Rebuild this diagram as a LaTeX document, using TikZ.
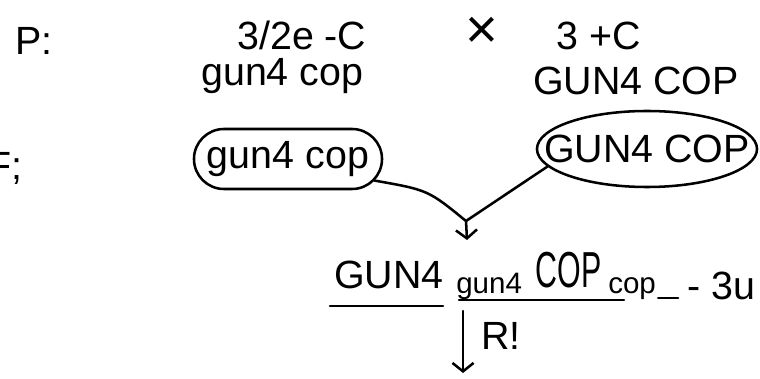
\documentclass[tikz,border=0pt]{standalone}
\usepackage{amsmath,amssymb}
\usepackage{fontspec}
\setmainfont{Liberation Sans}
\usetikzlibrary{shapes.geometric,shapes.misc,arrows.meta}

\tikzset{
  hand/.style={font=\fontsize{28}{30}\selectfont,inner sep=0pt,anchor=base west},
  small/.style={hand,font=\fontsize{21}{24}\selectfont},
  narrow/.style={hand,font=\fontsize{36}{38}\selectfont,xscale=0.6,transform shape},
  oval/.style={draw,rounded rectangle,inner sep=0pt}
}

\begin{document}
\begin{tikzpicture}[x=0.025cm,y=-0.025cm,>={Straight Barb[length=6pt,width=15pt]},line width=1.8pt,line cap=round]
\useasboundingbox (0,0) rectangle (760,379);
% parents
\node[hand] (p) at (14,55) {P:};
\node[hand] (fem) at (236,50) {3/2e -C};
\node[hand,font=\fontsize{40}{40}\selectfont] (cross) at (464,49) {\char"00D7};
\node[hand] (male) at (555,50) {3 +C};
\node[hand] (gfem) at (200,86) {gun4 cop};
\node[hand] (gmale) at (532,95) {GUN4 COP};
% gametes
\node[hand] (f) at (-14,180) {F;};
\node[oval,minimum width=4.7cm,minimum height=1.5cm] (lo) at (288,159) {};
\node[hand,anchor=center] (lt) at (lo) {gun4 cop};
\node[draw,ellipse,minimum width=5.5cm,minimum height=1.9cm] (ro) at (647,149) {};
\node[hand,anchor=center] (rt) at (ro) {GUN4 COP};
\coordinate (merge) at (466,221);
\coordinate (tip) at (467,240);
\draw (lo.-14) .. controls (428,190) .. (merge);
\draw (ro.-170) -- (merge);
\draw[->] (merge) -- (tip);
% hybrid
\node[hand] (h1) at (333,288) {GUN4};
\node[small] (h2) at (455,293) {gun4};
\node[narrow] (h3) at (535,287) {COP};
\node[small] (h4) at (607,293) {cop};
\node[hand] (h5) at (686,300) {- 3u};
\draw (h1.base west) ++(-3,18) -- ++(113,0);
\draw (h2.base west) ++(4,7) -- ++(165,0);
\draw (h4.base east) ++(1,5) -- ++(20,0);
% next step
\coordinate (rtop) at (463,311);
\coordinate (rbot) at (463,373);
\draw[->] (rtop) -- node[hand,anchor=west,pos=0.4,xshift=12pt] (r) {R!} (rbot);
\end{tikzpicture}
\end{document}
